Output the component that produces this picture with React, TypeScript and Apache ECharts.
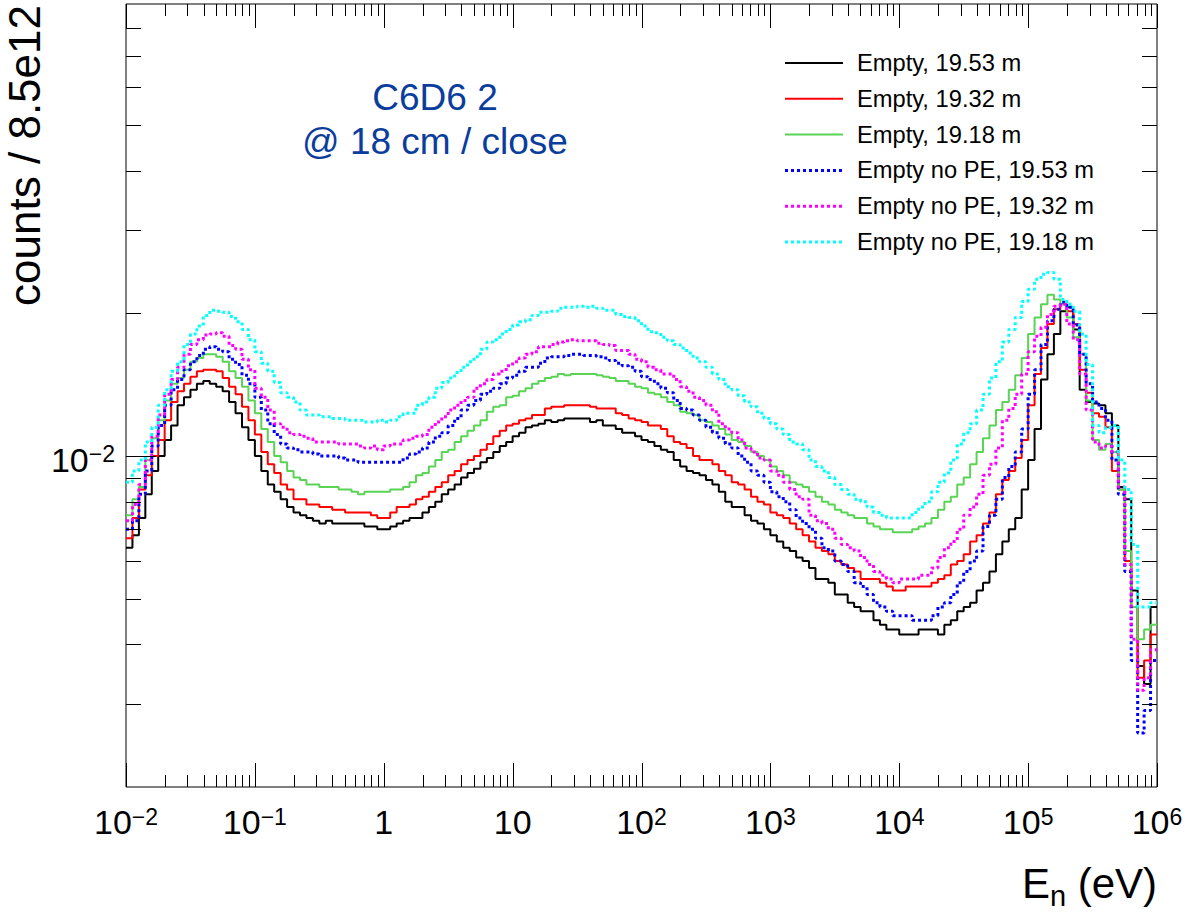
import React, { useEffect, useRef } from "react";
import * as echarts from "echarts";

const FONT = "'Liberation Sans', Arial, Helvetica, sans-serif";

// ---- axes ----
const X_MIN = 1e-2;
const X_MAX = 1e6;
const Y_MIN = 0.002;
const Y_MAX = 0.09;
const BINS_PER_DECADE = 20;

const X_TICK_LABELS = ["10^-2", "10^-1", "1", "10", "10^2", "10^3", "10^4", "10^5", "10^6"];
const X_TICK_EXPONENTS = [-2, -1, 0, 1, 2, 3, 4, 5, 6];
const Y_TICK_LABELS = ["10^-2"];
const Y_TICK_EXPONENTS = [-2];
const Y_MINOR_TICKS = [0.003, 0.004, 0.005, 0.006, 0.007, 0.008, 0.009, 0.02, 0.03, 0.04, 0.05, 0.06, 0.07, 0.08];
const Y_MAJOR_TICKS = [0.01];

// ---- series (counts / 8.5e12 per bin, 20 bins per decade from 0.01 eV to 1 MeV) ----
const EMPTY_1953 = [
  0.0064, 0.0068, 0.0074, 0.0083, 0.0093, 0.0100, 0.0108, 0.0116, 0.0128, 0.0133, 0.0138, 0.0142, 0.0144, 0.0142, 0.0140, 0.0137, 0.0130, 0.0123, 0.0115, 0.0108,
  0.0100, 0.0093, 0.0087, 0.0084, 0.0081, 0.0078, 0.0076, 0.0075, 0.0074, 0.0073, 0.0072, 0.0073, 0.0072, 0.0072, 0.0072, 0.0072, 0.0072, 0.0071, 0.0071, 0.0070,
  0.0070, 0.0071, 0.0072, 0.0073, 0.0074, 0.0074, 0.0076, 0.0078, 0.0080, 0.0083, 0.0085, 0.0087, 0.0090, 0.0092, 0.0094, 0.0097, 0.0099, 0.0102, 0.0105, 0.0107,
  0.0110, 0.0112, 0.0115, 0.0116, 0.0117, 0.0119, 0.0118, 0.0119, 0.0120, 0.0120, 0.0120, 0.0120, 0.0118, 0.0119, 0.0116, 0.0116, 0.0114, 0.0112, 0.0112, 0.0110,
  0.0108, 0.0107, 0.0105, 0.0103, 0.0102, 0.0098, 0.0095, 0.0093, 0.0092, 0.0091, 0.0089, 0.0087, 0.0084, 0.0080, 0.0078, 0.0078, 0.0075, 0.0073, 0.0072, 0.0070,
  0.0068, 0.0066, 0.0064, 0.0063, 0.0061, 0.0060, 0.0058, 0.0055, 0.0055, 0.0054, 0.0051, 0.0051, 0.0049, 0.0048, 0.0047, 0.0047, 0.0045, 0.0044, 0.0043, 0.0043,
  0.0042, 0.0042, 0.0042, 0.0043, 0.0043, 0.0043, 0.0042, 0.0044, 0.0045, 0.0047, 0.0048, 0.0049, 0.0052, 0.0054, 0.0057, 0.0062, 0.0066, 0.0070, 0.0074, 0.0085,
  0.0098, 0.0114, 0.0145, 0.0164, 0.0181, 0.0202, 0.0206, 0.0185, 0.0138, 0.0130, 0.0129, 0.0128, 0.0123, 0.0116, 0.0086, 0.0081, 0.0052, 0.0036, 0.0033, 0.0048,
];
const EMPTY_1932 = [
  0.0067, 0.0074, 0.0085, 0.0091, 0.0100, 0.0108, 0.0119, 0.0130, 0.0137, 0.0142, 0.0147, 0.0151, 0.0152, 0.0152, 0.0151, 0.0146, 0.0140, 0.0135, 0.0127, 0.0119,
  0.0111, 0.0102, 0.0096, 0.0092, 0.0087, 0.0085, 0.0081, 0.0081, 0.0079, 0.0079, 0.0078, 0.0078, 0.0077, 0.0077, 0.0076, 0.0076, 0.0076, 0.0076, 0.0075, 0.0074,
  0.0074, 0.0076, 0.0078, 0.0078, 0.0079, 0.0081, 0.0082, 0.0084, 0.0086, 0.0088, 0.0091, 0.0093, 0.0096, 0.0098, 0.0100, 0.0103, 0.0106, 0.0110, 0.0113, 0.0116,
  0.0117, 0.0119, 0.0120, 0.0122, 0.0122, 0.0126, 0.0127, 0.0127, 0.0128, 0.0128, 0.0128, 0.0128, 0.0127, 0.0126, 0.0126, 0.0126, 0.0123, 0.0122, 0.0120, 0.0119,
  0.0118, 0.0116, 0.0116, 0.0114, 0.0110, 0.0107, 0.0106, 0.0104, 0.0100, 0.0098, 0.0098, 0.0096, 0.0093, 0.0091, 0.0088, 0.0087, 0.0085, 0.0082, 0.0080, 0.0079,
  0.0076, 0.0075, 0.0074, 0.0072, 0.0070, 0.0068, 0.0066, 0.0064, 0.0063, 0.0062, 0.0060, 0.0059, 0.0058, 0.0057, 0.0055, 0.0055, 0.0055, 0.0054, 0.0053, 0.0052,
  0.0052, 0.0053, 0.0053, 0.0053, 0.0053, 0.0054, 0.0055, 0.0056, 0.0059, 0.0060, 0.0062, 0.0066, 0.0068, 0.0072, 0.0076, 0.0083, 0.0089, 0.0093, 0.0099, 0.0108,
  0.0128, 0.0149, 0.0169, 0.0190, 0.0204, 0.0209, 0.0202, 0.0190, 0.0152, 0.0136, 0.0123, 0.0121, 0.0115, 0.0093, 0.0085, 0.0060, 0.0048, 0.0034, 0.0037, 0.0042,
];
const EMPTY_1918 = [
  0.0075, 0.0081, 0.0086, 0.0098, 0.0109, 0.0119, 0.0131, 0.0142, 0.0146, 0.0152, 0.0158, 0.0161, 0.0164, 0.0164, 0.0162, 0.0158, 0.0151, 0.0146, 0.0140, 0.0131,
  0.0123, 0.0114, 0.0107, 0.0100, 0.0097, 0.0093, 0.0090, 0.0089, 0.0087, 0.0087, 0.0086, 0.0086, 0.0086, 0.0085, 0.0085, 0.0084, 0.0083, 0.0084, 0.0084, 0.0084,
  0.0084, 0.0085, 0.0085, 0.0086, 0.0088, 0.0091, 0.0092, 0.0095, 0.0098, 0.0102, 0.0103, 0.0107, 0.0110, 0.0113, 0.0116, 0.0119, 0.0124, 0.0127, 0.0128, 0.0133,
  0.0134, 0.0137, 0.0139, 0.0142, 0.0144, 0.0146, 0.0147, 0.0149, 0.0148, 0.0149, 0.0149, 0.0149, 0.0149, 0.0148, 0.0147, 0.0146, 0.0144, 0.0144, 0.0142, 0.0140,
  0.0139, 0.0136, 0.0135, 0.0133, 0.0130, 0.0128, 0.0124, 0.0123, 0.0122, 0.0119, 0.0118, 0.0116, 0.0114, 0.0111, 0.0108, 0.0107, 0.0105, 0.0102, 0.0100, 0.0098,
  0.0095, 0.0093, 0.0091, 0.0088, 0.0087, 0.0086, 0.0084, 0.0082, 0.0080, 0.0079, 0.0077, 0.0076, 0.0075, 0.0074, 0.0074, 0.0072, 0.0071, 0.0070, 0.0070, 0.0069,
  0.0069, 0.0069, 0.0070, 0.0071, 0.0072, 0.0074, 0.0077, 0.0080, 0.0082, 0.0087, 0.0090, 0.0096, 0.0102, 0.0109, 0.0116, 0.0125, 0.0130, 0.0138, 0.0148, 0.0161,
  0.0181, 0.0196, 0.0209, 0.0219, 0.0214, 0.0209, 0.0196, 0.0178, 0.0164, 0.0131, 0.0108, 0.0103, 0.0106, 0.0102, 0.0085, 0.0063, 0.0048, 0.0041, 0.0043, 0.0044,
];
const NOPE_1953 = [
  0.0070, 0.0073, 0.0083, 0.0093, 0.0105, 0.0116, 0.0128, 0.0138, 0.0145, 0.0152, 0.0158, 0.0163, 0.0168, 0.0170, 0.0168, 0.0166, 0.0160, 0.0156, 0.0148, 0.0142,
  0.0133, 0.0125, 0.0117, 0.0111, 0.0106, 0.0104, 0.0103, 0.0102, 0.0102, 0.0101, 0.0100, 0.0100, 0.0100, 0.0099, 0.0098, 0.0098, 0.0097, 0.0097, 0.0097, 0.0097,
  0.0097, 0.0097, 0.0097, 0.0099, 0.0101, 0.0102, 0.0104, 0.0107, 0.0110, 0.0112, 0.0116, 0.0120, 0.0125, 0.0128, 0.0131, 0.0135, 0.0137, 0.0139, 0.0142, 0.0146,
  0.0148, 0.0151, 0.0154, 0.0154, 0.0157, 0.0161, 0.0162, 0.0162, 0.0163, 0.0164, 0.0164, 0.0163, 0.0163, 0.0162, 0.0161, 0.0159, 0.0157, 0.0155, 0.0154, 0.0151,
  0.0147, 0.0145, 0.0142, 0.0139, 0.0136, 0.0131, 0.0126, 0.0125, 0.0122, 0.0119, 0.0115, 0.0112, 0.0109, 0.0106, 0.0104, 0.0100, 0.0097, 0.0093, 0.0091, 0.0088,
  0.0084, 0.0082, 0.0080, 0.0077, 0.0074, 0.0072, 0.0070, 0.0067, 0.0064, 0.0063, 0.0060, 0.0059, 0.0057, 0.0054, 0.0053, 0.0051, 0.0049, 0.0048, 0.0047, 0.0046,
  0.0046, 0.0046, 0.0045, 0.0045, 0.0045, 0.0046, 0.0048, 0.0049, 0.0051, 0.0054, 0.0057, 0.0060, 0.0063, 0.0071, 0.0075, 0.0081, 0.0090, 0.0095, 0.0102, 0.0114,
  0.0135, 0.0152, 0.0172, 0.0193, 0.0204, 0.0211, 0.0206, 0.0189, 0.0164, 0.0142, 0.0130, 0.0126, 0.0119, 0.0098, 0.0083, 0.0057, 0.0037, 0.0026, 0.0029, 0.0037,
];
const NOPE_1932 = [
  0.0073, 0.0079, 0.0087, 0.0098, 0.0110, 0.0122, 0.0135, 0.0145, 0.0154, 0.0164, 0.0172, 0.0176, 0.0180, 0.0181, 0.0182, 0.0179, 0.0171, 0.0168, 0.0160, 0.0152,
  0.0139, 0.0133, 0.0125, 0.0117, 0.0115, 0.0112, 0.0111, 0.0110, 0.0109, 0.0107, 0.0107, 0.0107, 0.0107, 0.0106, 0.0106, 0.0106, 0.0105, 0.0104, 0.0105, 0.0103,
  0.0105, 0.0106, 0.0106, 0.0108, 0.0109, 0.0110, 0.0111, 0.0115, 0.0118, 0.0121, 0.0125, 0.0128, 0.0131, 0.0133, 0.0139, 0.0142, 0.0145, 0.0149, 0.0151, 0.0155,
  0.0158, 0.0161, 0.0164, 0.0166, 0.0170, 0.0170, 0.0172, 0.0174, 0.0175, 0.0176, 0.0175, 0.0175, 0.0175, 0.0173, 0.0172, 0.0171, 0.0167, 0.0167, 0.0164, 0.0160,
  0.0158, 0.0154, 0.0152, 0.0149, 0.0149, 0.0145, 0.0140, 0.0137, 0.0133, 0.0131, 0.0128, 0.0124, 0.0117, 0.0114, 0.0112, 0.0108, 0.0104, 0.0102, 0.0099, 0.0098,
  0.0093, 0.0091, 0.0088, 0.0085, 0.0082, 0.0081, 0.0075, 0.0073, 0.0072, 0.0070, 0.0067, 0.0065, 0.0064, 0.0063, 0.0061, 0.0059, 0.0057, 0.0056, 0.0055, 0.0054,
  0.0055, 0.0055, 0.0055, 0.0056, 0.0056, 0.0058, 0.0061, 0.0064, 0.0066, 0.0070, 0.0075, 0.0078, 0.0083, 0.0091, 0.0096, 0.0104, 0.0119, 0.0126, 0.0135, 0.0149,
  0.0166, 0.0179, 0.0187, 0.0199, 0.0207, 0.0209, 0.0190, 0.0176, 0.0149, 0.0125, 0.0107, 0.0104, 0.0105, 0.0102, 0.0086, 0.0059, 0.0041, 0.0032, 0.0034, 0.0039,
];
const NOPE_1918 = [
  0.0088, 0.0093, 0.0098, 0.0107, 0.0115, 0.0128, 0.0138, 0.0151, 0.0158, 0.0172, 0.0181, 0.0188, 0.0198, 0.0203, 0.0202, 0.0201, 0.0197, 0.0192, 0.0185, 0.0176,
  0.0166, 0.0157, 0.0151, 0.0143, 0.0136, 0.0133, 0.0130, 0.0125, 0.0122, 0.0122, 0.0121, 0.0121, 0.0120, 0.0120, 0.0119, 0.0119, 0.0119, 0.0118, 0.0118, 0.0119,
  0.0118, 0.0119, 0.0121, 0.0123, 0.0123, 0.0128, 0.0130, 0.0133, 0.0139, 0.0143, 0.0146, 0.0150, 0.0154, 0.0158, 0.0162, 0.0168, 0.0174, 0.0176, 0.0181, 0.0185,
  0.0189, 0.0192, 0.0194, 0.0198, 0.0201, 0.0201, 0.0202, 0.0205, 0.0206, 0.0206, 0.0207, 0.0206, 0.0207, 0.0205, 0.0203, 0.0203, 0.0199, 0.0197, 0.0196, 0.0193,
  0.0188, 0.0183, 0.0182, 0.0178, 0.0175, 0.0172, 0.0169, 0.0165, 0.0161, 0.0158, 0.0154, 0.0149, 0.0145, 0.0140, 0.0138, 0.0134, 0.0130, 0.0127, 0.0123, 0.0120,
  0.0117, 0.0114, 0.0111, 0.0107, 0.0106, 0.0103, 0.0098, 0.0095, 0.0093, 0.0090, 0.0087, 0.0085, 0.0083, 0.0081, 0.0080, 0.0078, 0.0076, 0.0075, 0.0074, 0.0074,
  0.0074, 0.0074, 0.0076, 0.0078, 0.0080, 0.0084, 0.0088, 0.0092, 0.0098, 0.0106, 0.0112, 0.0117, 0.0125, 0.0135, 0.0146, 0.0158, 0.0174, 0.0185, 0.0196, 0.0212,
  0.0225, 0.0236, 0.0242, 0.0244, 0.0236, 0.0214, 0.0209, 0.0202, 0.0181, 0.0156, 0.0116, 0.0112, 0.0115, 0.0116, 0.0098, 0.0085, 0.0065, 0.0048, 0.0048, 0.0049,
];

const SERIES_NAMES = [
  "Empty, 19.53 m",
  "Empty, 19.32 m",
  "Empty, 19.18 m",
  "Empty no PE, 19.53 m",
  "Empty no PE, 19.32 m",
  "Empty no PE, 19.18 m",
];
const SERIES_VALUES = [EMPTY_1953, EMPTY_1932, EMPTY_1918, NOPE_1953, NOPE_1932, NOPE_1918];
const SERIES_COLORS = ["#000000", "#ff0000", "#59d454", "#0000ff", "#ff00ff", "#00ffff"];
const SERIES_DOTTED = [false, false, false, true, true, true];

const TITLE_LINES = ["C6D6 2", "@ 18 cm / close"];

// ---- helpers ----
function binEdges(n: number): number[] {
  const out: number[] = [];
  for (let k = 0; k <= n; k++) out.push(X_MIN * Math.pow(10, k / BINS_PER_DECADE));
  return out;
}
function histPoints(values: number[]): number[][] {
  const e = binEdges(values.length);
  const pts = values.map((v, k) => [e[k], v]);
  pts.push([e[values.length], values[values.length - 1]]);
  return pts;
}
function toRich(label: string): string {
  const parts = label.split("^");
  if (parts.length === 1) return `{b|${parts[0]}}`;
  return `{b|${parts[0]}}{s|${parts[1].replace("-", "\u2212")}}`;
}
function labelFor(v: number, exps: number[], labels: string[]): string {
  const l = Math.log10(v);
  const r = Math.round(l);
  if (Math.abs(l - r) > 1e-6) return "";
  const i = exps.indexOf(r);
  return i >= 0 ? toRich(labels[i]) : "";
}

const LABEL_RICH = {
  b: { fontSize: 34, lineHeight: 34, fontFamily: FONT, color: "#000" },
  s: { fontSize: 23, lineHeight: 22, fontFamily: FONT, color: "#000", verticalAlign: "top" },
};

function plainText(text: string, x: number, y: number, fontSize: number, align: string, fill = "#000", extra: any = {}) {
  return {
    type: "text",
    x,
    y,
    silent: true,
    ...extra,
    style: {
      text,
      fontSize,
      fontFamily: FONT,
      fill,
      textAlign: align,
      textVerticalAlign: "middle",
    },
  };
}

export default function App() {
  const ref = useRef<HTMLDivElement>(null);

  useEffect(() => {
    if (!ref.current) return;
    const chart = echarts.init(ref.current, undefined, { renderer: "svg" });

    const xTickData: number[][] = [];
    for (let e = -2; e < 6; e++) {
      for (let m = 1; m <= 9; m++) xTickData.push([m * Math.pow(10, e), Y_MIN, m === 1 ? 1 : 0]);
    }
    xTickData.push([X_MAX, Y_MIN, 1]);
    const yTickData: number[][] = [
      ...Y_MINOR_TICKS.map((v) => [X_MIN, v, 0]),
      ...Y_MAJOR_TICKS.map((v) => [X_MIN, v, 1]),
    ];

    const lineSeries = SERIES_VALUES.map((vals, i) => ({
      name: SERIES_NAMES[i],
      type: "line",
      step: "end",
      data: histPoints(vals),
      showSymbol: false,
      symbol: "none",
      silent: true,
      z: 2,
      lineStyle: {
        color: SERIES_COLORS[i],
        width: SERIES_DOTTED[i] ? 3 : 2,
        type: SERIES_DOTTED[i] ? [3, 3] : "solid",
        cap: "butt",
      },
    }));

    const crisp = (p: number) => Math.round(p) + 0.5;

    const legendEls: any[] = [];
    SERIES_NAMES.forEach((name, i) => {
      const y = 63 + 35.8 * i;
      legendEls.push({
        type: "line",
        shape: { x1: 785, y1: y, x2: 843, y2: y },
        style: {
          stroke: SERIES_COLORS[i],
          lineWidth: SERIES_DOTTED[i] ? 3 : 2,
          lineDash: SERIES_DOTTED[i] ? [3, 3] : null,
        },
        silent: true,
      });
      legendEls.push(plainText(name, 857, y, 23.7, "left"));
    });

    const option: any = {
      animation: false,
      backgroundColor: "#ffffff",
      grid: {
        left: 126,
        right: 34,
        top: 4,
        bottom: 129,
        show: true,
        borderColor: "#000",
        borderWidth: 1,
        backgroundColor: "transparent",
        containLabel: false,
        outerBoundsMode: "none",
      },
      xAxis: {
        type: "log",
        logBase: 10,
        min: X_MIN,
        max: X_MAX,
        axisLine: { show: false },
        axisTick: { show: false },
        splitLine: { show: false },
        axisLabel: {
          margin: 18,
          interval: 0,
          hideOverlap: false,
          formatter: (v: number) => labelFor(v, X_TICK_EXPONENTS, X_TICK_LABELS),
          rich: LABEL_RICH,
        },
      },
      yAxis: {
        type: "log",
        logBase: 10,
        min: Y_MIN,
        max: Y_MAX,
        axisLine: { show: false },
        axisTick: { show: false },
        splitLine: { show: false },
        axisLabel: {
          margin: 11,
          padding: [8, 0, 0, 0],
          showMinLabel: false,
          showMaxLabel: false,
          formatter: (v: number) => labelFor(v, Y_TICK_EXPONENTS, Y_TICK_LABELS),
          rich: LABEL_RICH,
        },
      },
      series: [
        ...lineSeries,
        {
          type: "custom",
          coordinateSystem: "cartesian2d",
          silent: true,
          clip: false,
          z: 5,
          encode: { x: 0, y: 1 },
          data: xTickData,
          renderItem: (params: any, api: any) => {
            const v = api.value(0);
            const major = api.value(2) === 1;
            const b = api.coord([v, Y_MIN]);
            const t = api.coord([v, Y_MAX]);
            const len = major ? 24 : 12;
            const x = crisp(b[0]);
            return {
              type: "group",
              children: [
                { type: "line", shape: { x1: x, y1: b[1], x2: x, y2: b[1] - len }, style: { stroke: "#000", lineWidth: 1 } },
                { type: "line", shape: { x1: x, y1: t[1], x2: x, y2: t[1] + len }, style: { stroke: "#000", lineWidth: 1 } },
              ],
            };
          },
        },
        {
          type: "custom",
          coordinateSystem: "cartesian2d",
          silent: true,
          clip: false,
          z: 5,
          encode: { x: 0, y: 1 },
          data: yTickData,
          renderItem: (params: any, api: any) => {
            const v = api.value(1);
            const major = api.value(2) === 1;
            const l = api.coord([X_MIN, v]);
            const r = api.coord([X_MAX, v]);
            const len = major ? 30 : 15;
            const y = crisp(l[1]);
            return {
              type: "group",
              children: [
                { type: "line", shape: { x1: l[0], y1: y, x2: l[0] + len, y2: y }, style: { stroke: "#000", lineWidth: 1 } },
                { type: "line", shape: { x1: r[0], y1: y, x2: r[0] - len, y2: y }, style: { stroke: "#000", lineWidth: 1 } },
              ],
            };
          },
        },
      ],
      graphic: {
        elements: [
          plainText(TITLE_LINES[0], 435, 97.5, 37, "center", "#0b3d9c"),
          plainText(TITLE_LINES[1], 435, 141, 37, "center", "#0b3d9c"),
          ...legendEls,
          plainText("counts / 8.5e12", 24, 5, 44, "right", "#000", { rotation: Math.PI / 2 }),
          // x-axis title E_n (eV): baseline of E ~898, subscript lowered
          plainText("E", 1050, 883, 42, "right"),
          plainText("n", 1050, 896, 29, "left"),
          plainText(" (eV)", 1157, 883, 42, "right"),
        ],
      },
    };

    chart.setOption(option);
    return () => chart.dispose();
  }, []);

  return (
    <div
      ref={ref}
      style={{ position: "absolute", left: 0, top: 0, width: 1191, height: 916, background: "#fff" }}
    />
  );
}
